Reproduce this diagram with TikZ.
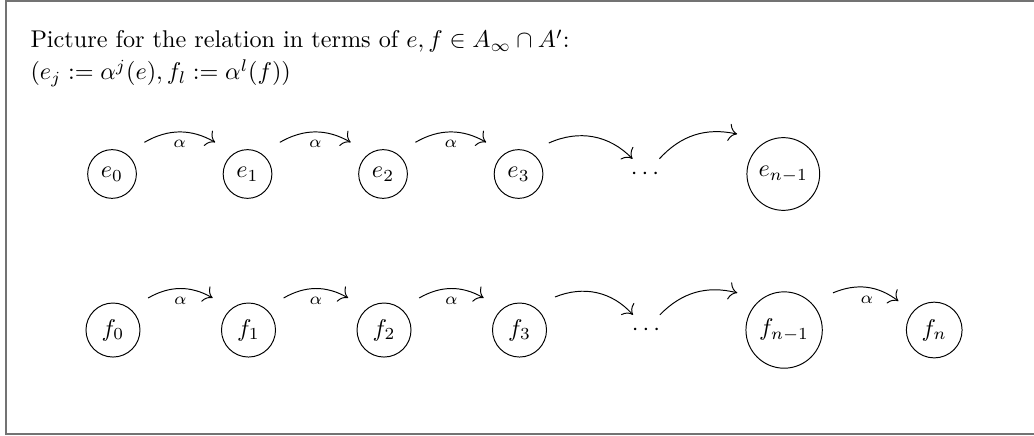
\documentclass[tikz,border=0pt]{standalone}
\usetikzlibrary{arrows.meta}
\tikzstyle{state} = [
    circle,
    draw=black
]
\tikzstyle{arrow} = [-{To[scale=1.4]}]
\tikzstyle{frame} = [draw=black!55, line width=0.8pt]
\tikzstyle{alabel} = [below]
\tikzstyle{caption} = [anchor=base west, inner sep=0pt]

\begin{document}
\begin{tikzpicture}[node distance=1.968cm]

\useasboundingbox (0,0) rectangle (15.017,-6.332);
\draw [frame] (15.3,-0.01) -- (0.087,-0.01) -- (0.087,-6.303) -- (15.3,-6.303);

\node (title) [caption] at (0.436,-0.697)
{Picture for the relation in terms of $e,f\in A_\infty\cap A'$:};
\node (defs) [caption] at (0.436,-1.16)
{$(e_j:=\alpha^j(e), f_l:=\alpha^l(f))$};

% top row
\node (e0) [state] at (1.627,-2.527) {$e_0$};
\node (e1) [state, right of=e0] {$e_1$};
\node (e2) [state, right of=e1] {$e_2$};
\node (e3) [state, right of=e2] {$e_3$};
\node (edots) [right of=e3, node distance=1.835cm] {$\cdots$};
\node (en) [state, right of=edots, node distance=2.01cm] {$e_{n-1}$};

% bottom row
\node (f0) [state] at (1.641,-4.793) {$f_0$};
\node (f1) [state, right of=f0] {$f_1$};
\node (f2) [state, right of=f1] {$f_2$};
\node (f3) [state, right of=f2] {$f_3$};
\node (fdots) [right of=f3, node distance=1.838cm] {$\cdots$};
\node (fn1) [state, right of=fdots, node distance=2.005cm] {$f_{n-1}$};
\node (fn) [state, right of=fn1, node distance=2.18cm] {$f_n$};

\draw [arrow] ([shift={(0.47,0.46)}]e0.center) to[bend left=30]
    node[alabel] {$\scriptstyle\alpha$} ([shift={(-0.47,0.46)}]e1.center);
\draw [arrow] ([shift={(0.47,0.46)}]e1.center) to[bend left=30]
    node[alabel] {$\scriptstyle\alpha$} ([shift={(-0.47,0.46)}]e2.center);
\draw [arrow] ([shift={(0.47,0.46)}]e2.center) to[bend left=30]
    node[alabel] {$\scriptstyle\alpha$} ([shift={(-0.47,0.46)}]e3.center);
\draw [arrow] ([shift={(0.44,0.45)}]e3.center) to[bend left=35]
    ([shift={(-0.18,0.22)}]edots.center);
\draw [arrow] ([shift={(0.21,0.22)}]edots.center) to[bend left=30]
    ([shift={(-0.67,0.58)}]en.center);

\draw [arrow] ([shift={(0.51,0.465)}]f0.center) to[bend left=30]
    node[alabel] {$\scriptstyle\alpha$} ([shift={(-0.52,0.465)}]f1.center);
\draw [arrow] ([shift={(0.51,0.465)}]f1.center) to[bend left=30]
    node[alabel] {$\scriptstyle\alpha$} ([shift={(-0.52,0.465)}]f2.center);
\draw [arrow] ([shift={(0.51,0.465)}]f2.center) to[bend left=30]
    node[alabel] {$\scriptstyle\alpha$} ([shift={(-0.52,0.465)}]f3.center);
\draw [arrow] ([shift={(0.516,0.48)}]f3.center) to[bend left=35]
    ([shift={(-0.19,0.22)}]fdots.center);
\draw [arrow] ([shift={(0.2,0.22)}]fdots.center) to[bend left=30]
    ([shift={(-0.68,0.54)}]fn1.center);
\draw [arrow] ([shift={(0.71,0.54)}]fn1.center) to[bend left=30]
    node[alabel] {$\scriptstyle\alpha$} ([shift={(-0.52,0.42)}]fn.center);

\end{tikzpicture}
\end{document}
